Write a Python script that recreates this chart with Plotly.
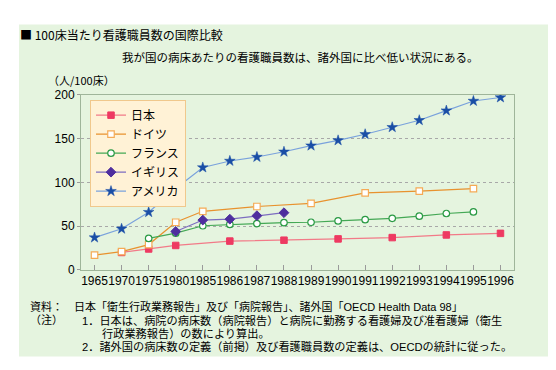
import plotly.graph_objects as go

years = ["1965", "1970", "1975", "1980", "1985", "1986", "1987", "1988",
         "1989", "1990", "1991", "1992", "1993", "1994", "1995", "1996"]
japan = [None, 20, 24, 28, None, 33, None, 34, None, 35.5, None, 37, None, 40, None, 41.8]
germany = [17, 21, 29, 54.5, 67, None, 72.5, None, 76, None, 88, None, 90, None, 92.9, None]
france = [None, None, 36, 42, 50.5, 52, 53, 54, 54.5, 56, 57.5, 59, 61.5, 64.5, 66.3, None]
uk = [None, None, None, 44, 57, 58, 62, 65.4, None, None, None, None, None, None, None, None]
usa = [37, 47, 66, 93, 117, 124.5, 129, 135, 142, 148, 155, 163, 171, 182, 193, 197]

W, H = 556, 370
FONT = "Liberation Sans, Arial, Noto Sans CJK JP, sans-serif"
JFONT = "Noto Sans CJK JP, Liberation Sans, sans-serif"


def px(x):
    return x / W


def py(y):
    return 1 - y / H


series = [
    ("日本", japan, "#f27a88", dict(symbol="square", size=6.5, color="#ee3a62", line=dict(color="#ee3a62", width=1))),
    ("ドイツ", germany, "#e8922e", dict(symbol="square", size=6.5, color="white", line=dict(color="#f5aa55", width=1.2))),
    ("フランス", france, "#44a855", dict(symbol="circle", size=6.5, color="white", line=dict(color="#2a9a44", width=1.2))),
    ("イギリス", uk, "#7c6cc0", dict(symbol="diamond", size=7.5, color="#4e2e9e", line=dict(color="#4e2e9e", width=1))),
    ("アメリカ", usa, "#7aa2dc", dict(symbol="star", size=8, color="#1a4ea6", line=dict(color="#1a4ea6", width=0.5))),
]

fig = go.Figure()
for name, vals, lc, mk in series:
    fig.add_trace(go.Scatter(
        x=years, y=vals, name=name, mode="lines+markers",
        connectgaps=True, line=dict(color=lc, width=1.2), marker=mk,
    ))

annos = [
    dict(x=years[-1], y=usa[-1], text=str(usa[-1]), yshift=-15, xanchor="center"),
    dict(x=years[-2], y=germany[-2], text=str(germany[-2]), xshift=7, xanchor="left"),
    dict(x=years[-2], y=france[-2], text=str(france[-2]), xshift=7, xanchor="left"),
    dict(x=years[-1], y=japan[-1], text=str(japan[-1]), yshift=-16, xanchor="center"),
    dict(x=years[7], y=uk[7], text=str(uk[7]), xshift=7, xanchor="left"),
]
for a in annos:
    a.update(showarrow=False, font=dict(family=FONT, size=13, color="black"))
    fig.add_annotation(**a)

texts = [
    (10, 20, "■ 100床当たり看護職員数の国際比較", 12, "left", JFONT),
    (292, 44, "我が国の病床あたりの看護職員数は、諸外国に比べ低い状況にある。", 11.5, "center", JFONT),
    (38, 68, "（人/100床）", 11, "left", JFONT),
    (20, 303, "資料：", 11, "left", FONT),
    (64, 303, "日本「衛生行政業務報告」及び「病院報告」、諸外国「OECD Health Data 98」", 11, "left", FONT),
    (20, 317, "（注）", 11, "left", FONT),
    (72, 317, "1．日本は、病院の病床数（病院報告）と病院に勤務する看護婦及び准看護婦（衛生", 11.2, "left", FONT),
    (92, 331, "行政業務報告）の数により算出。", 11.2, "left", FONT),
    (72, 345, "2．諸外国の病床数の定義（前掲）及び看護職員数の定義は、OECDの統計に従った。", 11.2, "left", FONT),
]
for x, y, t, s, anc, fam in texts:
    fig.add_annotation(x=px(x), y=py(y), xref="paper", yref="paper", text=t,
                       showarrow=False, xanchor=anc, yanchor="middle",
                       font=dict(family=fam, size=s, color="black"))

# green panel background
fig.add_shape(type="rect", xref="paper", yref="paper", layer="below",
              x0=px(11), x1=px(543), y0=py(355), y1=py(10),
              fillcolor="#e5f4df", line=dict(width=0))

fig.update_layout(
    width=W, height=H,
    margin=dict(l=0, r=0, t=0, b=0),
    paper_bgcolor="white", plot_bgcolor="rgba(0,0,0,0)",
    font=dict(family=FONT, size=12, color="black"),
    legend=dict(x=px(82), y=py(88), xanchor="left", yanchor="top",
                bgcolor="#fff2d6", bordercolor="#f0c88c", borderwidth=1,
                font=dict(family=JFONT, size=12, color="black"),
                itemwidth=30, tracegroupgap=0),
    xaxis=dict(type="category", domain=[px(73), px(506)], range=[-0.5, 15.5],
               showline=True, mirror=True, linecolor="#9fb59a", linewidth=1,
               ticks="inside", ticklen=5, tickcolor="#9a9a9a", tickangle=0,
               tickfont=dict(family=FONT, size=12), showgrid=False),
    yaxis=dict(domain=[1 - 265 / H, 1 - 83 / H], range=[0, 200], dtick=50,
               showline=True, mirror=True, linecolor="#9fb59a", linewidth=1,
               ticks="outside", ticklen=3, tickcolor="#9a9a9a",
               showgrid=True, gridcolor="#a8a8a8", griddash="dot", gridwidth=1,
               zeroline=False, tickfont=dict(family=FONT, size=12)),
)

fig.write_html("out.html")
